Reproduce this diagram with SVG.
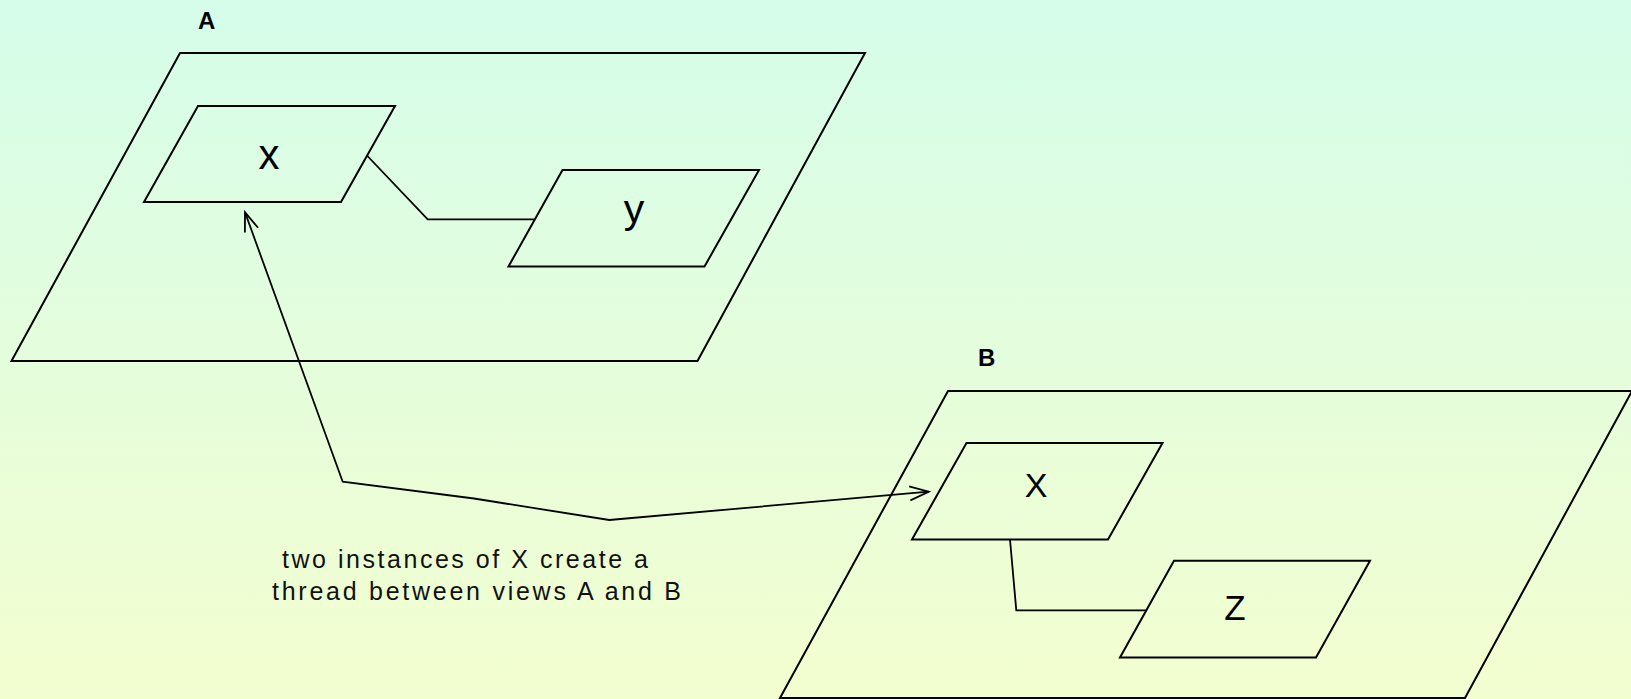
<svg xmlns="http://www.w3.org/2000/svg" width="1631" height="699" viewBox="0 0 1631 699">
  <defs>
    <linearGradient id="bg" x1="0" y1="0" x2="0" y2="1">
      <stop offset="0" stop-color="#d5fdea"/>
      <stop offset="1" stop-color="#f3fecf"/>
    </linearGradient>
    <marker id="open" markerUnits="userSpaceOnUse" markerWidth="24" markerHeight="20" viewBox="-21 -10 24 20" refX="0" refY="0" orient="auto-start-reverse">
      <path d="M-19,-7 L0,0 L-19,7" fill="none" stroke="#000" stroke-width="1.8"/>
    </marker>
    <style>
      .shape { fill: none; stroke: #000; stroke-width: 2; stroke-linejoin: miter; }
      .conn { fill: none; stroke: #000; stroke-width: 1.8; }
      .lbl { font-family: "Liberation Sans", Arial, sans-serif; fill: #000; text-anchor: middle; }
      .view { font-family: "Liberation Sans", Arial, sans-serif; font-weight: bold; font-size: 24px; fill: #000; }
      .note { font-family: "Liberation Sans", Arial, sans-serif; font-size: 25px; fill: #111; }
    </style>
  </defs>
  <rect x="0" y="0" width="1631" height="699" fill="url(#bg)"/>

  <g id="viewA">
    <polygon class="shape" points="180,53 865,53 697.5,361 11.5,361"/>
    <text class="view" x="198" y="29">A</text>
  </g>
  <g id="viewB">
    <polygon class="shape" points="948,391 1632,391 1465,698 780,698"/>
    <text class="view" x="978" y="366">B</text>
  </g>

  <g id="nodeXA">
    <polygon class="shape" points="198,106 395,106 341,202 144,202"/>
    <text class="lbl" x="269" y="169" font-size="42">x</text>
  </g>
  <g id="nodeY">
    <polygon class="shape" points="562.5,170 759,170 704.5,266.5 508.5,266.5"/>
    <text class="lbl" x="634" y="223" font-size="41">y</text>
  </g>
  <g id="nodeXB">
    <polygon class="shape" points="966.5,443 1162.5,443 1108,539.5 912,539.5"/>
    <text class="lbl" x="1036" y="497" font-size="34">X</text>
  </g>
  <g id="nodeZ">
    <polygon class="shape" points="1174,560.7 1370,560.7 1316,657.5 1120,657.5"/>
    <text class="lbl" x="1235" y="620" font-size="35">Z</text>
  </g>

  <g id="connectors">
    <polyline class="conn" points="366.5,155 427.7,219.3 534,219.3"/>
    <polyline class="conn" points="1010,539.5 1016.3,610.3 1146.5,610.3"/>
    <polyline class="conn" points="245,212.3 342.7,481.7 474,498.5 609.3,520 928.7,491.7" marker-start="url(#open)" marker-end="url(#open)"/>
  </g>

  <g id="note">
    <text class="note" x="282" y="568" textLength="366" lengthAdjust="spacing">two instances of X create a</text>
    <text class="note" x="272" y="600" textLength="409" lengthAdjust="spacing">thread between views A and B</text>
  </g>
</svg>
